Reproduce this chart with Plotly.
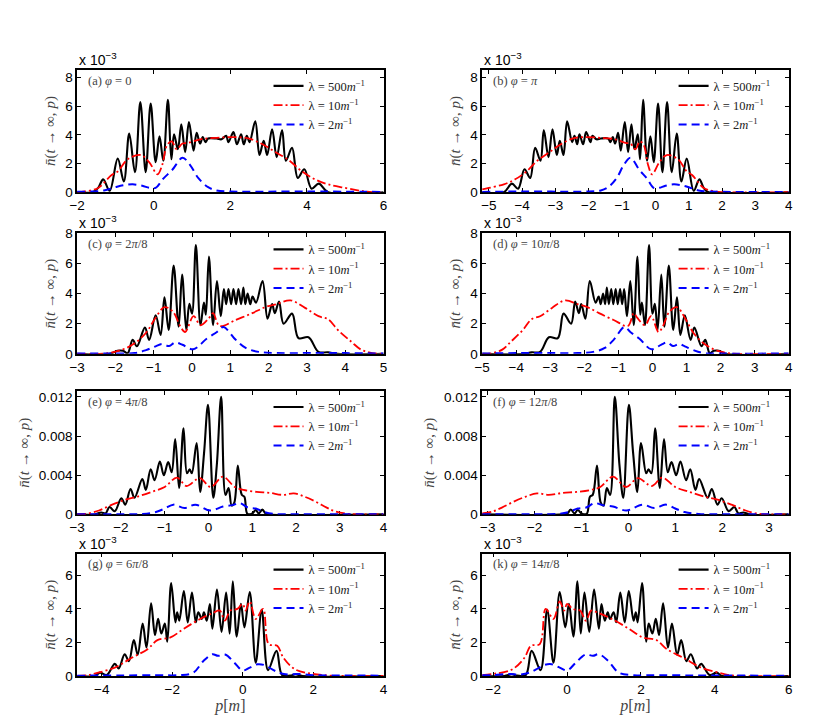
# Distribuição de momento n(t -> inf, p) para vários φ e λ

# %% Bibliotecas
import plotly.graph_objects as go


# %% Dados (p, n x 1e-3)

# (a) φ = 0
black_a = [(-2, 0), (-1.6, 0), (-1.45, 0.3), (-1.32, 0.9), (-1.15, 0.1), (-0.94, 2.35), (-0.78, 0.75),
           (-0.64, 4.1), (-0.49, 1.4), (-0.35, 6.3), (-0.21, 1.4), (-0.08, 6.2), (0.05, 2.1), (0.15, 3.9),
           (0.25, 2.2), (0.37, 6.45), (0.46, 2.3), (0.53, 4.05), (0.63, 3.0), (0.72, 4.75), (0.82, 2.8),
           (0.92, 4.9), (1.04, 2.9), (1.12, 4.15), (1.21, 3.4), (1.28, 3.85), (1.35, 3.5), (1.42, 3.75),
           (1.64, 3.75), (1.77, 3.7), (1.89, 3.95), (1.95, 3.5), (2.08, 4.2), (2.17, 3.35), (2.28, 4.05),
           (2.35, 3.35), (2.43, 3.95), (2.5, 3.5), (2.65, 4.95), (2.76, 2.6), (2.87, 3.6), (2.96, 2.6),
           (3.09, 4.4), (3.21, 2.45), (3.35, 4.35), (3.45, 2.2), (3.61, 3.1), (3.76, 1.0), (3.93, 1.6),
           (4.12, 0.25), (4.31, 0.6), (4.55, 0), (6, 0)]
red_a = [(-2, 0), (-1.8, 0.05), (-1.45, 0.3), (-1.1, 1.2), (-0.94, 1.45), (-0.68, 2.3), (-0.34, 2.6),
         (-0.12, 2.1), (0.1, 1.25), (0.22, 1.9), (0.35, 3.3), (0.47, 3.55), (0.6, 3.0), (0.75, 3.4),
         (0.9, 3.45), (1.21, 3.7), (1.64, 3.8), (2.15, 3.85), (2.49, 3.75), (2.84, 3.35), (3.18, 2.8),
         (3.52, 2.25), (3.87, 1.45), (4.21, 0.9), (4.55, 0.55), (5.0, 0.3), (5.4, 0.1), (5.7, 0), (6, 0)]
blue_a = [(-2, 0.03), (-1.3, 0.12), (-1.0, 0.35), (-0.8, 0.48), (-0.55, 0.55), (-0.3, 0.45), (-0.1, 0.3),
          (0.05, 0.3), (0.25, 0.95), (0.48, 1.55), (0.75, 2.4), (0.95, 1.9), (1.16, 1.0), (1.42, 0.35),
          (1.64, 0.12), (2.0, 0.05), (4.0, 0.05), (6, 0.02)]

# (b) φ = π
black_b = [(-5.2, 0), (-4.55, 0), (-4.31, 0.6), (-4.12, 0.25), (-3.93, 1.6), (-3.76, 1.0), (-3.61, 3.1),
           (-3.45, 2.2), (-3.35, 4.35), (-3.21, 2.45), (-3.09, 4.4), (-2.96, 2.6), (-2.87, 3.6), (-2.76, 2.6),
           (-2.65, 4.95), (-2.5, 3.5), (-2.43, 3.95), (-2.35, 3.35), (-2.28, 4.05), (-2.17, 3.35), (-2.08, 4.2),
           (-1.95, 3.5), (-1.89, 3.95), (-1.77, 3.7), (-1.64, 3.75), (-1.42, 3.75), (-1.35, 3.5), (-1.28, 3.85),
           (-1.21, 3.4), (-1.12, 4.15), (-1.04, 2.9), (-0.92, 4.9), (-0.82, 2.8), (-0.72, 4.75), (-0.63, 3.0),
           (-0.53, 4.05), (-0.46, 2.3), (-0.37, 6.45), (-0.25, 2.2), (-0.15, 3.9), (-0.05, 2.1), (0.08, 6.2),
           (0.21, 1.4), (0.35, 6.3), (0.49, 1.4), (0.64, 4.1), (0.78, 0.75), (0.94, 2.35), (1.15, 0.1),
           (1.32, 0.9), (1.45, 0.3), (1.6, 0), (4, 0)]
red_b = [(-5.2, 0.2), (-5.0, 0.3), (-4.55, 0.55), (-4.21, 0.9), (-3.87, 1.45), (-3.52, 2.25), (-3.18, 2.8),
         (-2.84, 3.35), (-2.49, 3.75), (-2.15, 3.85), (-1.64, 3.8), (-1.21, 3.7), (-0.9, 3.45), (-0.75, 3.4),
         (-0.6, 3.0), (-0.47, 3.55), (-0.35, 3.3), (-0.22, 1.9), (-0.1, 1.25), (0.12, 2.1), (0.34, 2.6),
         (0.68, 2.3), (0.94, 1.45), (1.1, 1.2), (1.45, 0.3), (1.8, 0.05), (2, 0), (4, 0)]
blue_b = [(-5.2, 0.02), (-4.0, 0.05), (-2.0, 0.05), (-1.64, 0.12), (-1.42, 0.35), (-1.16, 1.0), (-0.95, 1.9),
          (-0.75, 2.4), (-0.48, 1.55), (-0.25, 0.95), (-0.05, 0.3), (0.1, 0.3), (0.3, 0.45), (0.55, 0.55),
          (0.8, 0.48), (1.0, 0.35), (1.3, 0.12), (2, 0.03), (4, 0.02)]

# (c) φ = 2π/8
black_c = [(-3, 0), (-2.15, 0), (-1.95, 0.2), (-1.8, 0.2), (-1.68, 0.05), (-1.55, 0.93), (-1.44, 0.5),
           (-1.23, 1.74), (-1.12, 0.93), (-0.95, 2.56), (-0.82, 1.26), (-0.72, 3.75), (-0.61, 1.58),
           (-0.48, 5.86), (-0.35, 1.8), (-0.26, 5.27), (-0.15, 1.58), (-0.07, 3.32), (0.0, 2.67), (0.1, 7.22),
           (0.22, 1.9), (0.31, 3.4), (0.36, 2.6), (0.44, 6.46), (0.55, 1.9), (0.65, 4.84), (0.75, 2.5),
           (0.83, 4.3), (0.89, 3.3), (0.95, 4.3), (1.02, 3.3), (1.08, 4.3), (1.15, 3.3), (1.21, 4.3),
           (1.28, 3.3), (1.34, 4.4), (1.39, 3.3), (1.45, 4.0), (1.52, 3.3), (1.58, 3.8), (1.67, 3.4),
           (1.84, 4.84), (1.97, 2.34), (2.09, 3.3), (2.16, 2.7), (2.27, 3.47), (2.39, 2.0), (2.61, 2.67),
           (2.78, 1.04), (3.04, 1.1), (3.3, 0.13), (3.55, 0.1), (3.8, 0.0), (5, 0)]
red_c = [(-3, 0), (-2.2, 0.05), (-1.8, 0.3), (-1.5, 0.7), (-1.2, 1.4), (-0.95, 2.4), (-0.72, 3.1),
         (-0.5, 2.8), (-0.3, 1.8), (-0.18, 1.45), (0.04, 2.5), (0.22, 1.9), (0.45, 2.4), (0.55, 2.7),
         (0.72, 1.85), (1.14, 2.25), (1.57, 2.7), (1.91, 3.1), (2.2, 3.3), (2.57, 3.55), (2.95, 3.05),
         (3.3, 2.5), (3.55, 2.3), (3.8, 1.6), (4.15, 0.82), (4.41, 0.28), (4.7, 0.05), (5, 0)]
blue_c = [(-3, 0.02), (-2, 0.02), (-1.5, 0.05), (-1.2, 0.25), (-0.95, 0.5), (-0.78, 0.65), (-0.6, 0.52),
          (-0.44, 0.76), (-0.25, 0.6), (0.03, 0.3), (0.38, 1.0), (0.65, 1.45), (0.82, 1.78), (1.14, 0.93),
          (1.4, 0.39), (1.74, 0.13), (2.2, 0.05), (3, 0.05), (4, 0.05), (5, 0.02)]

# (d) φ = 10π/8
black_d = [(-5, 0), (-3.8, 0), (-3.55, 0.1), (-3.3, 0.13), (-3.04, 1.1), (-2.78, 1.04), (-2.61, 2.67),
           (-2.39, 2.0), (-2.27, 3.47), (-2.16, 2.7), (-2.09, 3.3), (-1.97, 2.34), (-1.84, 4.84), (-1.67, 3.4),
           (-1.58, 3.8), (-1.52, 3.3), (-1.45, 4.0), (-1.39, 3.3), (-1.34, 4.4), (-1.28, 3.3), (-1.21, 4.3),
           (-1.15, 3.3), (-1.08, 4.3), (-1.02, 3.3), (-0.95, 4.3), (-0.89, 3.3), (-0.83, 4.3), (-0.75, 2.5),
           (-0.65, 4.84), (-0.55, 1.9), (-0.44, 6.46), (-0.36, 2.6), (-0.31, 3.4), (-0.22, 1.9), (-0.1, 7.22),
           (0.0, 2.67), (0.07, 3.32), (0.15, 1.58), (0.26, 5.27), (0.35, 1.8), (0.48, 5.86), (0.61, 1.58),
           (0.72, 3.75), (0.82, 1.26), (0.95, 2.56), (1.12, 0.93), (1.23, 1.74), (1.44, 0.5), (1.55, 0.93),
           (1.68, 0.05), (1.8, 0.2), (1.95, 0.2), (2.15, 0), (4, 0)]
red_d = [(-5, 0), (-4.7, 0.05), (-4.41, 0.28), (-4.15, 0.82), (-3.8, 1.6), (-3.55, 2.3), (-3.3, 2.5),
         (-2.95, 3.05), (-2.57, 3.55), (-2.2, 3.3), (-1.91, 3.1), (-1.57, 2.7), (-1.14, 2.25), (-0.72, 1.85),
         (-0.55, 2.7), (-0.45, 2.4), (-0.22, 1.9), (-0.04, 2.5), (0.18, 1.45), (0.3, 1.8), (0.5, 2.8),
         (0.72, 3.1), (0.95, 2.4), (1.2, 1.4), (1.5, 0.7), (1.8, 0.3), (2.2, 0.05), (3, 0), (4, 0)]
blue_d = [(-5, 0.02), (-4, 0.05), (-3, 0.05), (-2.2, 0.05), (-1.74, 0.13), (-1.4, 0.39), (-1.14, 0.93),
          (-0.82, 1.78), (-0.65, 1.45), (-0.38, 1.0), (-0.03, 0.3), (0.25, 0.6), (0.44, 0.76), (0.6, 0.52),
          (0.78, 0.65), (0.95, 0.5), (1.2, 0.25), (1.5, 0.05), (2, 0.02), (4, 0.02)]

# (e) φ = 4π/8
black_e = [(-3, 0), (-2.6, 0), (-2.45, 0.2), (-2.35, 0.1), (-2.26, 0.75), (-2.14, 0.33), (-1.99, 1.65),
           (-1.9, 1.0), (-1.78, 2.6), (-1.69, 1.7), (-1.51, 3.6), (-1.43, 2.5), (-1.32, 4.6), (-1.23, 3.5),
           (-1.11, 5.4), (-1.02, 4.0), (-0.92, 5.35), (-0.84, 4.3), (-0.76, 7.7), (-0.67, 2.7), (-0.57, 8.8),
           (-0.49, 4.2), (-0.43, 4.6), (-0.38, 4.2), (-0.27, 7.3), (-0.19, 2.3), (-0.1, 6.3), (-0.01, 11.2),
           (0.11, 1.7), (0.19, 5.0), (0.29, 12.0), (0.39, 2.0), (0.46, 2.7), (0.53, 0.9), (0.59, 1.2),
           (0.67, 5.0), (0.76, 2.0), (0.82, 1.8), (0.89, 0.05), (1.0, 0.1), (1.08, 0.45), (1.15, 0.1),
           (1.23, 0.5), (1.3, 0.1), (1.4, 0), (4, 0)]
red_e = [(-3, 0), (-2.8, 0.05), (-2.5, 0.4), (-2.2, 1.0), (-1.9, 1.5), (-1.6, 1.85), (-1.3, 2.3),
         (-1.0, 2.8), (-0.72, 3.75), (-0.5, 2.9), (-0.2, 3.7), (0.05, 2.8), (0.33, 3.85), (0.6, 2.8),
         (0.8, 2.5), (1.1, 2.3), (1.4, 2.2), (1.7, 2.0), (1.95, 2.15), (2.2, 1.8), (2.45, 1.3), (2.7, 0.7),
         (2.9, 0.3), (3.2, 0.05), (3.5, 0), (4, 0)]
blue_e = [(-3, 0.02), (-2, 0.03), (-1.5, 0.05), (-1.2, 0.25), (-1.0, 0.6), (-0.8, 1.0), (-0.55, 0.65),
          (-0.3, 1.0), (0.04, 0.4), (0.33, 0.8), (0.55, 0.95), (0.72, 1.15), (0.9, 0.7), (1.08, 0.6),
          (1.27, 0.25), (1.5, 0.05), (2, 0.03), (3, 0.03), (4, 0.02)]

# (f) φ = 12π/8
black_f = [(-3.12, 0), (-1.4, 0), (-1.3, 0.1), (-1.23, 0.5), (-1.15, 0.1), (-1.08, 0.45), (-1.0, 0.1),
           (-0.89, 0.05), (-0.82, 1.8), (-0.76, 2.0), (-0.67, 5.0), (-0.59, 1.2), (-0.53, 0.9), (-0.46, 2.7),
           (-0.39, 2.0), (-0.29, 12.0), (-0.19, 5.0), (-0.11, 1.7), (0.01, 11.2), (0.1, 6.3), (0.19, 2.3),
           (0.27, 7.3), (0.38, 4.2), (0.43, 4.6), (0.49, 4.2), (0.57, 8.8), (0.67, 2.7), (0.76, 7.7),
           (0.84, 4.3), (0.92, 5.35), (1.02, 4.0), (1.11, 5.4), (1.23, 3.5), (1.32, 4.6), (1.43, 2.5),
           (1.51, 3.6), (1.69, 1.7), (1.78, 2.6), (1.9, 1.0), (1.99, 1.65), (2.14, 0.33), (2.26, 0.75),
           (2.35, 0.1), (2.45, 0.2), (2.6, 0), (3.42, 0)]
red_f = [(-3.12, 0.1), (-2.9, 0.3), (-2.7, 0.7), (-2.45, 1.3), (-2.2, 1.8), (-1.95, 2.15), (-1.7, 2.0),
         (-1.4, 2.2), (-1.1, 2.3), (-0.8, 2.5), (-0.6, 2.8), (-0.33, 3.85), (-0.05, 2.8), (0.2, 3.7),
         (0.5, 2.9), (0.72, 3.75), (1.0, 2.8), (1.3, 2.3), (1.6, 1.85), (1.9, 1.5), (2.2, 1.0), (2.5, 0.4),
         (2.8, 0.05), (3.0, 0), (3.42, 0)]
blue_f = [(-3.12, 0.02), (-2, 0.03), (-1.5, 0.05), (-1.27, 0.25), (-1.08, 0.6), (-0.9, 0.7), (-0.72, 1.15),
          (-0.55, 0.95), (-0.33, 0.8), (-0.04, 0.4), (0.3, 1.0), (0.55, 0.65), (0.8, 1.0), (1.0, 0.6),
          (1.2, 0.25), (1.5, 0.05), (2, 0.03), (3.42, 0.02)]

# (g) φ = 6π/8
black_g = [(-4.7, 0), (-4.2, 0), (-4.05, 0.2), (-3.86, 0.06), (-3.63, 0.72), (-3.52, 0.45), (-3.35, 1.3),
           (-3.23, 0.88), (-3.09, 2.14), (-2.98, 1.27), (-2.84, 3.12), (-2.73, 1.7), (-2.6, 4.34), (-2.49, 2.44),
           (-2.4, 3.41), (-2.31, 2.53), (-2.21, 3.12), (-2.14, 2.05), (-2.03, 5.55), (-1.91, 3.2), (-1.86, 3.8),
           (-1.8, 3.3), (-1.67, 5.07), (-1.56, 3.2), (-1.44, 4.97), (-1.33, 3.2), (-1.26, 3.8), (-1.16, 3.4),
           (-1.1, 3.8), (-1.02, 3.3), (-0.93, 4.29), (-0.86, 2.82), (-0.73, 5.16), (-0.6, 2.63), (-0.47, 4.97),
           (-0.37, 2.53), (-0.28, 5.65), (-0.17, 2.35), (-0.05, 4.3), (0.05, 2.9), (0.2, 5.0), (0.37, 0.8),
           (0.54, 3.95), (0.72, 0.35), (0.96, 1.5), (1.12, 0.05), (1.35, 0.03), (1.5, 0.1), (1.7, 0), (4, 0)]
red_g = [(-4.7, 0.0), (-4.4, 0.05), (-4.1, 0.2), (-3.63, 0.5), (-3.16, 1.07), (-2.7, 1.6), (-2.42, 2.14),
         (-2.05, 2.3), (-1.67, 2.82), (-1.21, 3.4), (-0.84, 3.76), (-0.65, 3.9), (-0.51, 3.3), (-0.35, 3.9),
         (-0.15, 4.0), (0.0, 4.3), (0.08, 3.9), (0.2, 4.45), (0.37, 3.4), (0.58, 4.0), (0.74, 1.9),
         (0.98, 1.8), (1.16, 1.07), (1.49, 0.39), (1.95, 0.14), (2.42, 0.03), (3, 0), (4, 0)]
blue_g = [(-4.7, 0.02), (-3.5, 0.03), (-2.5, 0.05), (-1.8, 0.05), (-1.4, 0.2), (-1.12, 0.88), (-0.86, 1.3),
          (-0.7, 1.2), (-0.5, 1.28), (-0.23, 0.78), (0.0, 0.33), (0.2, 0.5), (0.42, 0.7), (0.62, 0.65),
          (0.84, 0.39), (1.02, 0.2), (1.3, 0.08), (1.55, 0.12), (2, 0.05), (3, 0.03), (4, 0.02)]

# (k) φ = 14π/8
black_k = [(-2.3, 0), (-1.7, 0), (-1.5, 0.1), (-1.35, 0.03), (-1.12, 0.05), (-0.96, 1.5), (-0.72, 0.35),
           (-0.54, 3.95), (-0.37, 0.8), (-0.2, 5.0), (-0.05, 2.9), (0.05, 4.3), (0.17, 2.35), (0.28, 5.65),
           (0.37, 2.53), (0.47, 4.97), (0.6, 2.63), (0.73, 5.16), (0.86, 2.82), (0.93, 4.29), (1.02, 3.3),
           (1.1, 3.8), (1.16, 3.4), (1.26, 3.8), (1.33, 3.2), (1.44, 4.97), (1.56, 3.2), (1.67, 5.07),
           (1.8, 3.3), (1.86, 3.8), (1.91, 3.2), (2.03, 5.55), (2.14, 2.05), (2.21, 3.12), (2.31, 2.53),
           (2.4, 3.41), (2.49, 2.44), (2.6, 4.34), (2.73, 1.7), (2.84, 3.12), (2.98, 1.27), (3.09, 2.14),
           (3.23, 0.88), (3.35, 1.3), (3.52, 0.45), (3.63, 0.72), (3.86, 0.06), (4.05, 0.2), (4.2, 0), (6, 0)]
red_k = [(-2.3, 0.05), (-1.95, 0.14), (-1.49, 0.39), (-1.16, 1.07), (-0.98, 1.8), (-0.74, 1.9), (-0.58, 4.0),
         (-0.37, 3.4), (-0.2, 4.45), (-0.08, 3.9), (0.0, 4.3), (0.15, 4.0), (0.35, 3.9), (0.51, 3.3),
         (0.65, 3.9), (0.84, 3.76), (1.21, 3.4), (1.67, 2.82), (2.05, 2.3), (2.42, 2.14), (2.7, 1.6),
         (3.16, 1.07), (3.63, 0.5), (4.1, 0.2), (4.4, 0.05), (4.7, 0), (6, 0)]
blue_k = [(-2.3, 0.04), (-2, 0.05), (-1.55, 0.12), (-1.3, 0.08), (-1.02, 0.2), (-0.84, 0.39), (-0.62, 0.65),
          (-0.42, 0.7), (-0.2, 0.5), (0.0, 0.33), (0.23, 0.78), (0.5, 1.28), (0.7, 1.2), (0.86, 1.3),
          (1.12, 0.88), (1.4, 0.2), (1.8, 0.05), (2.5, 0.05), (3.5, 0.03), (6, 0.02)]

# Rótulos
rotulos = ['(a) <i>φ</i> = 0', '(b) <i>φ</i> = <i>π</i>', '(c) <i>φ</i> = 2<i>π</i>/8',
           '(d) <i>φ</i> = 10<i>π</i>/8', '(e) <i>φ</i> = 4<i>π</i>/8', '(f) <i>φ</i> = 12<i>π</i>/8',
           '(g) <i>φ</i> = 6<i>π</i>/8', '(k) <i>φ</i> = 14<i>π</i>/8']
nomes = ['λ = 500<i>m</i><sup>−1</sup>', 'λ = 10<i>m</i><sup>−1</sup>', 'λ = 2<i>m</i><sup>−1</sup>']
series = [(black_a, red_a, blue_a), (black_b, red_b, blue_b), (black_c, red_c, blue_c),
          (black_d, red_d, blue_d), (black_e, red_e, blue_e), (black_f, red_f, blue_f),
          (black_g, red_g, blue_g), (black_k, red_k, blue_k)]
ytick_e = ['0', '0.004', '0.008', '0.012']


# %% Layout dos painéis
col_x = [(0.0747, 0.4494), (0.5699, 0.9446)]
row_y = [(0.7497, 0.9225), (0.5214, 0.6916), (0.2946, 0.4689), (0.0664, 0.2393)]
x_ranges = [[-2, 6], [-5.2, 4], [-3, 5], [-5, 4], [-3, 4], [-3.12, 3.42], [-4.7, 4], [-2.3, 6]]
x_dticks = [2, 1, 1, 1, 1, 1, 2, 2]
y_tops = [8.55, 8.55, 8, 8, 12.6, 12.6, 7.3, 7.3]

estilos = [dict(color='black', width=2.1, dash='solid'),
           dict(color='#ff0000', width=1.8, dash='9px,3px,2px,3px'),
           dict(color='#0000ff', width=2, dash='8px,5px')]

serif = 'Liberation Serif'
sans = 'Liberation Sans'

fig = go.Figure()
layout = {}
anotacoes = []

for i in range(8):
    n = i + 1
    sfx = '' if n == 1 else str(n)
    row, col = i // 2, i % 2
    xa, ya = 'x' + sfx, 'y' + sfx

    for dados, nome, est in zip(series[i], nomes, estilos):
        fig.add_trace(go.Scatter(
            x=[p[0] for p in dados], y=[p[1] for p in dados],
            mode='lines', name=nome,
            line=dict(color=est['color'], width=est['width'], dash=est['dash'], shape='spline', smoothing=1),
            xaxis=xa, yaxis=ya, legend='legend' + sfx))

    eixo = dict(showline=True, linecolor='black', linewidth=1.5, mirror='ticks', ticks='inside',
                ticklen=4, tickwidth=1, tickcolor='black', showgrid=False, zeroline=False,
                tickfont=dict(family=sans, size=13.5, color='black'), layer='below traces')

    xaxis = dict(eixo, domain=list(col_x[col]), anchor=ya, range=x_ranges[i], dtick=x_dticks[i], tick0=0)
    if row == 3:
        xaxis['title'] = dict(text='<i>p</i>[<i>m</i>]', font=dict(family=serif, size=16, color='#444'),
                              standoff=4)
    yaxis = dict(eixo, domain=list(row_y[row]), anchor=xa, range=[0, y_tops[i]],
                 title=dict(text='<i>n̄</i>(<i>t</i> → ∞, <i>p</i>)',
                            font=dict(family=serif, size=15, color='#444'), standoff=6))
    if i in (4, 5):
        yaxis['tickvals'] = [0, 4, 8, 12]
        yaxis['ticktext'] = ytick_e
    else:
        yaxis['tickvals'] = [0, 2, 4, 6, 8]

    layout['xaxis' + sfx] = xaxis
    layout['yaxis' + sfx] = yaxis

    # legenda de cada painel
    layout['legend' + sfx] = dict(
        x=col_x[col][1] - 0.016, y=row_y[row][1] - 0.002, xanchor='right', yanchor='top',
        bgcolor='rgba(0,0,0,0)', borderwidth=0, font=dict(family=serif, size=12.5, color='#222'),
        tracegroupgap=0)

    anotacoes.append(dict(text=rotulos[i], xref=xa + ' domain', yref=ya + ' domain', x=0.03, y=0.985,
                          xanchor='left', yanchor='top', showarrow=False,
                          font=dict(family=serif, size=12.5, color='#444')))
    if i not in (4, 5):
        anotacoes.append(dict(text='x 10<sup>−3</sup>', xref=xa + ' domain', yref=ya + ' domain',
                              x=0, y=1.0, xanchor='left', yanchor='bottom', showarrow=False,
                              font=dict(family=sans, size=14, color='black')))

fig.update_layout(**layout)
fig.update_layout(
    width=830, height=723,
    margin=dict(l=0, r=0, t=0, b=0),
    plot_bgcolor='white', paper_bgcolor='white',
    font=dict(family=sans, color='black'),
    annotations=anotacoes,
)

fig.write_html("out.html")
